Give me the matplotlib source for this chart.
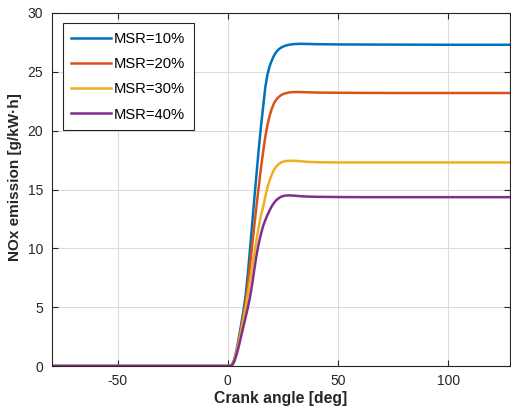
import matplotlib
matplotlib.use("Agg")
import matplotlib.pyplot as plt

plt.rcParams['font.family'] = ['Liberation Sans', 'DejaVu Sans']
plt.rcParams['axes.unicode_minus'] = False

# Crank angle samples [deg]
crank = [-80, 0, 1, 2, 3, 4, 5, 6, 7, 8, 9, 10, 11, 12, 13, 14, 15, 16, 17, 18, 19,
         20, 21, 22, 23, 24, 25, 26, 28, 30, 33, 36, 40, 50, 60, 80, 100, 128]

# Cumulative NOx emission [g/kW·h] for each methanol substitution ratio
nox_msr10 = [0, 0, 0.02, 0.15, 0.6, 1.4, 2.4, 3.5, 4.6, 5.9, 7.7, 9.8, 12.0, 14.2, 16.3,
             18.4, 20.3, 22.0, 23.7, 24.8, 25.5, 26.0, 26.4, 26.7, 26.9, 27.04, 27.14,
             27.22, 27.31, 27.36, 27.38, 27.37, 27.35, 27.33, 27.32, 27.31, 27.3, 27.3]
nox_msr20 = [0, 0, 0.02, 0.13, 0.55, 1.3, 2.2, 3.2, 4.2, 5.3, 6.8, 8.5, 10.2, 11.9, 13.6,
             15.2, 16.8, 18.2, 19.5, 20.5, 21.3, 21.9, 22.35, 22.65, 22.85, 23.0, 23.1,
             23.17, 23.25, 23.28, 23.28, 23.26, 23.24, 23.22, 23.21, 23.2, 23.2, 23.2]
nox_msr30 = [0, 0, 0.02, 0.12, 0.5, 1.2, 2.0, 2.9, 3.9, 4.9, 6.0, 7.2, 8.4, 9.6, 10.7,
             11.8, 12.8, 13.5, 14.4, 15.2, 15.8, 16.3, 16.7, 16.95, 17.15, 17.28, 17.36,
             17.41, 17.45, 17.44, 17.4, 17.35, 17.32, 17.3, 17.3, 17.3, 17.3, 17.3]
nox_msr40 = [0, 0, 0.01, 0.08, 0.4, 1.0, 1.7, 2.5, 3.3, 4.1, 4.9, 5.8, 6.9, 8.2, 9.4,
             10.4, 11.2, 11.9, 12.4, 12.85, 13.25, 13.6, 13.88, 14.1, 14.25, 14.37, 14.44,
             14.48, 14.5, 14.48, 14.43, 14.4, 14.38, 14.36, 14.35, 14.35, 14.35, 14.35]

labels = ['MSR=10%', 'MSR=20%', 'MSR=30%', 'MSR=40%']
colors = ['#0072BD', '#D95319', '#EDB120', '#7E2F8E']
series = [nox_msr10, nox_msr20, nox_msr30, nox_msr40]

fig = plt.figure(figsize=(5.11, 4.09), dpi=100)
ax = fig.add_axes([51.5 / 511, 43 / 409, 458.5 / 511, 353 / 409])

for y, c, lab in zip(series, colors, labels):
    ax.plot(crank, y, color=c, lw=1.8, label=lab)

ax.set_xlim(-80, 128)
ax.set_ylim(0, 30)
ax.set_xticks([-50, 0, 50, 100])
ax.set_yticks([0, 5, 10, 15, 20, 25, 30])

ax.grid(True, color='#dcdcdc', lw=0.8)
ax.set_axisbelow(True)
for s in ax.spines.values():
    s.set_color('#262626')
    s.set_linewidth(0.8)
ax.tick_params(direction='in', top=True, right=True, length=4, width=0.8,
               color='#262626', labelcolor='#262626', labelsize=10, pad=6)

ax.set_xlabel('Crank angle [deg]', fontsize=11.3, fontweight='bold', color='#262626', labelpad=2)
ax.set_ylabel('NOx emission [g/kW·h]', fontsize=11, fontweight='bold', color='#262626')
ax.yaxis.set_label_coords(-0.065, 0.534)

leg = ax.legend(loc='upper left', bbox_to_anchor=(0.024, 0.971), borderaxespad=0,
                fontsize=10.6, handlelength=2.72, handletextpad=0.18, labelspacing=0.76,
                fancybox=False, framealpha=1, edgecolor='#262626', borderpad=0.6)
leg.get_frame().set_linewidth(0.8)

fig.savefig('out.png', dpi=100)
